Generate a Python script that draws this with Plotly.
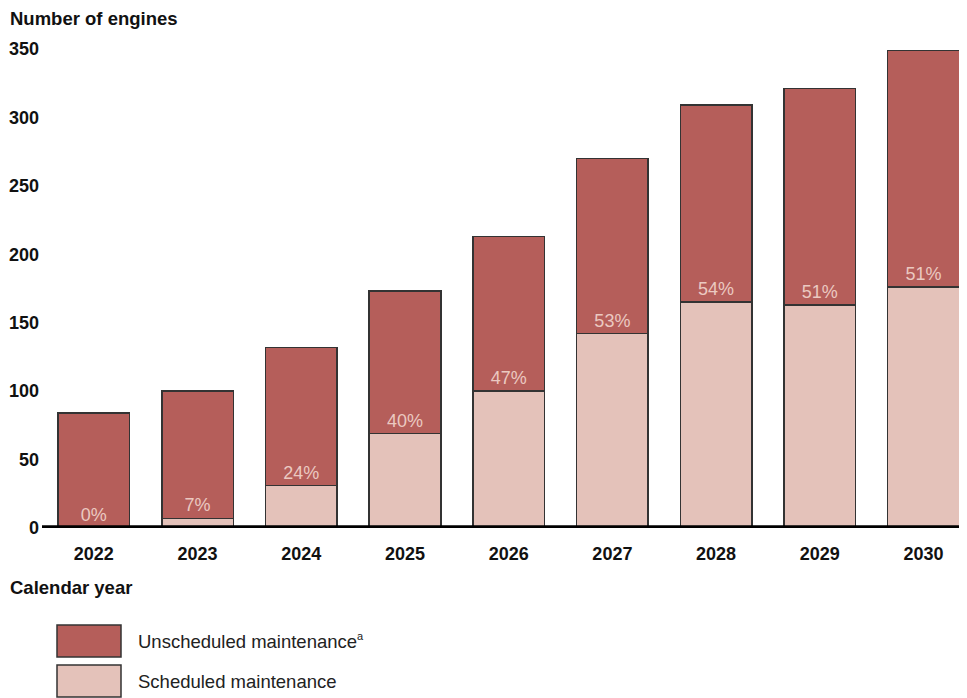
import plotly.graph_objects as go

years = ["2022", "2023", "2024", "2025", "2026", "2027", "2028", "2029", "2030"]
scheduled = [0, 7, 31, 69, 100, 142, 165, 163, 176]
unscheduled = [84, 93, 101, 104, 113, 128, 144, 158, 173]
share_pct = [0, 7, 24, 40, 47, 53, 54, 51, 51]
y_ticks = [0, 50, 100, 150, 200, 250, 300, 350]

C_UNS = "#B55E5A"
C_SCH = "#E4C2BA"
C_EDGE = "#333333"
FONT = "Liberation Sans, Arial, sans-serif"

fig = go.Figure()
fig.add_trace(go.Bar(
    x=years, y=scheduled, name="Scheduled maintenance",
    marker=dict(color=C_SCH, line=dict(color=C_EDGE, width=1.5)),
    hoverinfo="skip",
))
fig.add_trace(go.Bar(
    x=years, y=unscheduled, name="Unscheduled maintenance",
    marker=dict(color=C_UNS, line=dict(color=C_EDGE, width=1.5)),
    text=[f"{p}%" for p in share_pct],
    textposition="inside", insidetextanchor="start",
    textfont=dict(family=FONT, size=18, color="#EBC9C1"),
    textangle=0, constraintext="none",
    hoverinfo="skip",
))

# page has an 8px body margin: figure sized/margined to compensate
fig.update_layout(
    barmode="stack",
    bargap=0.31,
    width=959, height=690,
    margin=dict(l=34, r=7, t=41, b=170),
    paper_bgcolor="white", plot_bgcolor="white",
    showlegend=False,
    font=dict(family=FONT, color="#111111"),
    xaxis=dict(
        type="category", range=[-0.5, 8.352], automargin=False,
        showgrid=False, zeroline=False, showline=False,
        ticks="", tickfont=dict(family=FONT, size=18, color="#111111", weight="bold"),
        ticklabelstandoff=13,
    ),
    yaxis=dict(
        range=[0, 350], tickvals=y_ticks, automargin=False,
        showgrid=False, zeroline=False, showline=False,
        ticks="", tickfont=dict(family=FONT, size=18, color="#111111", weight="bold"),
        ticklabelstandoff=2,
    ),
)

# thick baseline
fig.add_shape(type="line", xref="paper", yref="y", x0=0, x1=1, y0=0, y1=0,
              line=dict(color="black", width=5.5), layer="above")

fig.add_annotation(text="<b>Number of engines</b>", xref="paper", yref="paper",
                   x=-34/918, y=1 + 31/479, xanchor="left", yanchor="middle",
                   showarrow=False, font=dict(family=FONT, size=18.5, color="#111111"))
fig.add_annotation(text="<b>Calendar year</b>", xref="paper", yref="paper",
                   x=-34/918, y=-59/479, xanchor="left", yanchor="middle",
                   showarrow=False, font=dict(family=FONT, size=18.5, color="#111111"))

# legend (positions in page pixels converted to paper fractions)
def px_x(p):
    return (p - 42) / 918

def px_y(p):
    return (528 - p) / 479

legend_items = [("Unscheduled maintenance<sup><span style='font-size:11px'>a</span></sup>", C_UNS, 625, 657),
                ("Scheduled maintenance", C_SCH, 665, 697)]
for label, col, y0, y1 in legend_items:
    fig.add_shape(type="rect", xref="paper", yref="paper",
                  x0=px_x(57), x1=px_x(121), y0=px_y(y1), y1=px_y(y0),
                  fillcolor=col, line=dict(color=C_EDGE, width=1.5))
    fig.add_annotation(text=label, xref="paper", yref="paper",
                       x=px_x(136), y=px_y((y0 + y1) / 2), xanchor="left", yanchor="middle",
                       showarrow=False, font=dict(family=FONT, size=18.5, color="#222222"))

fig.write_html("out.html")
